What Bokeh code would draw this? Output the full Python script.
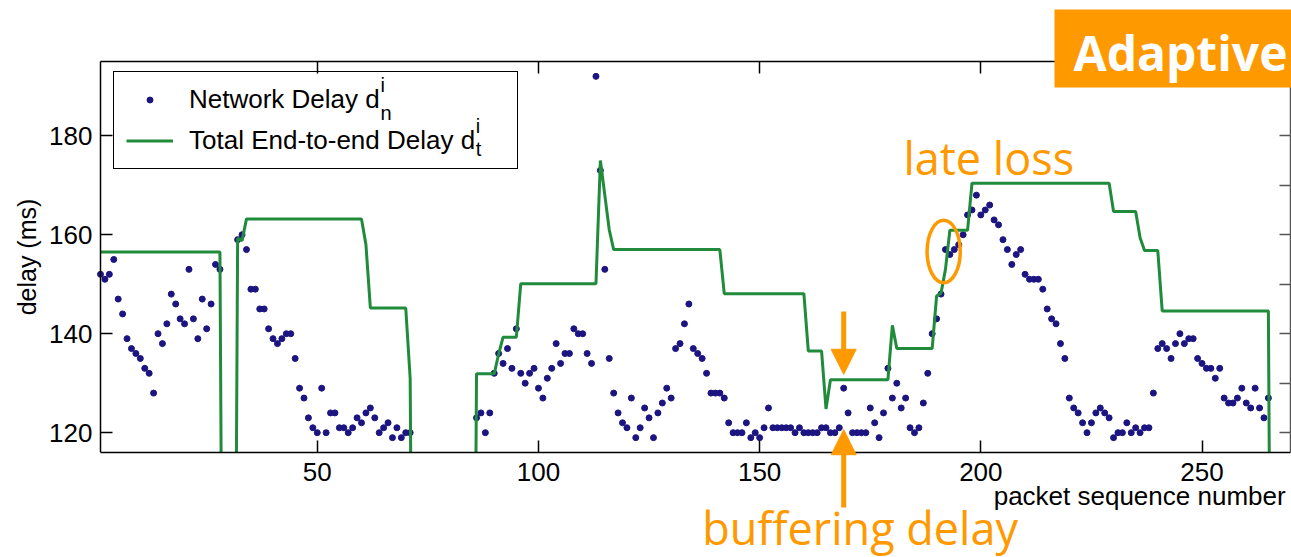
from bokeh.plotting import figure
from bokeh.models import (Range1d, LinearAxis, FixedTicker, Legend, LegendItem, Label,
                          BoxAnnotation, Arrow, NormalHead)
from bokeh.embed import file_html
from bokeh.resources import INLINE

# ---------------- data ----------------
net_seq = list(range(1, 29)) + list(range(32, 72)) + list(range(86, 266))
net_delay = [
    # packets 1-28
    152, 151, 152, 155, 147, 144, 139, 137, 136, 135, 133, 132, 128, 140, 138, 142, 148, 146, 143, 142,
    153, 143, 139, 147, 141, 146, 154, 153,
    # packets 32-71
    159, 160, 157, 149, 149, 145, 145, 141, 139, 138, 139, 140, 140, 135, 129, 127, 123, 121, 120, 129,
    120, 124, 124, 121, 121, 120, 121, 123, 122, 124, 125, 123, 120, 121, 122, 119, 121, 119, 120, 120,
    # packets 86-265
    123, 124, 120, 124, 132, 136, 134, 137, 133, 141, 132, 130, 132, 133, 129, 127, 131, 133, 138, 134,
    136, 136, 141, 140, 140, 136, 134, 192, 173, 153, 135, 128, 124, 122, 121, 127, 119, 121, 125, 123,
    119, 124, 126, 129, 127, 137, 138, 142, 146, 137, 136, 135, 132, 128, 128, 128, 127, 122, 120, 120,
    120, 122, 119, 120, 119, 121, 125, 121, 121, 121, 121, 121, 120, 121, 120, 120, 120, 120, 121, 121,
    120, 120, 121, 129, 124, 120, 120, 120, 120, 125, 122, 119, 124, 133, 127, 130, 125, 127, 121, 120,
    121, 126, 132, 140, 143, 148, 157, 156, 157, 158, 160, 164, 165, 168, 164, 165, 166, 163, 162, 159,
    157, 154, 156, 157, 152, 151, 151, 151, 149, 145, 143, 142, 138, 135, 127, 125, 124, 122, 120, 122,
    124, 125, 124, 123, 119, 120, 120, 122, 120, 121, 120, 121, 121, 128, 137, 138, 137, 135, 138, 140,
    138, 139, 139, 135, 134, 133, 133, 131, 133, 127, 126, 126, 127, 129, 126, 125, 129, 125, 123, 127,
]

# total end-to-end delay: vertices of the playout-delay curve (0 = packet lost)
tot_seq = [1, 28, 29, 31, 32, 33, 34, 60, 61, 62, 70, 71, 72, 85, 86, 90, 91, 92, 95, 96,
           113, 114, 115, 116, 117, 141, 142, 160, 161, 164, 165, 166, 179, 180, 181, 189, 190, 191, 192, 193,
           197, 198, 229, 230, 235, 236, 237, 240, 241, 265, 266]
tot_delay = [156.5, 156.5, 0, 0, 159.3, 158.8, 163.2, 163.2, 158.0, 145.2, 145.2, 131.0, 0, 0, 131.9, 131.9, 135.9, 139.3, 139.3, 150.1,
             150.1, 175.0, 168.0, 161.0, 157.0, 157.0, 148.1, 148.1, 136.5, 136.5, 124.8, 130.7, 130.7, 141.7, 137.0, 137.0, 147.6, 148.2, 153.0, 160.9,
             160.9, 170.4, 170.4, 164.7, 164.7, 159.4, 156.8, 156.8, 144.6, 144.6, 0]

x_lim = (1, 270)
y_lim = (116, 195)
x_ticks = [50, 100, 150, 200, 250]
y_ticks = [120, 140, 160, 180]
y_ticks_right = [120, 130, 140, 150, 160, 170, 180]

ORANGE = "#FF9900"
DOT = "#1c1480"
GREEN = "#1f8b3b"
FONT = "Liberation Sans"

# the frame fills the canvas; the plot box (x_lim, y_lim) sits at 100..1290 x 61..452 px
W, H = 1291, 557
kx = 1190 / (x_lim[1] - x_lim[0])
ky = 391 / (y_lim[1] - y_lim[0])
p = figure(width=W, height=H, output_backend="svg", toolbar_location=None,
           x_axis_location=None, y_axis_location=None,
           x_range=Range1d(x_lim[0] - 100 / kx, x_lim[0] + (W - 100) / kx),
           y_range=Range1d(y_lim[1] - (H - 61) / ky, y_lim[1] + 61 / ky),
           min_border=0)
p.title.visible = False
p.grid.visible = False
p.outline_line_color = None
p.background_fill_color = "white"
p.border_fill_color = "white"


def make_axis(ticks, loc, bounds, labels=True, tick_len=12, color="black"):
    ax = LinearAxis(fixed_location=loc, bounds=bounds)
    ax.ticker = FixedTicker(ticks=ticks)
    ax.major_tick_in = tick_len
    ax.major_tick_out = 0
    ax.minor_tick_line_color = None
    ax.axis_line_color = color
    ax.axis_line_width = 1.5
    ax.major_tick_line_color = color
    ax.major_tick_line_width = 1.5
    ax.major_label_text_font = FONT
    ax.major_label_text_font_size = "26px"
    ax.major_label_text_color = "black" if labels else None
    return ax


r_dots = p.scatter(net_seq, net_delay, size=6, color=DOT)
r_line = p.line(tot_seq, tot_delay, line_width=3, color=GREEN)

# white mask below the plot box (clips the drops of the delay curve)
p.add_layout(BoxAnnotation(top=y_lim[0], fill_color="white", fill_alpha=1.0, line_color=None))

x_bottom = make_axis(x_ticks, y_lim[0], x_lim)
x_bottom.major_label_standoff = 10
x_bottom.level = "overlay"
p.add_layout(x_bottom, "below")

y_left = make_axis(y_ticks, x_lim[0], y_lim)
y_left.major_label_standoff = 8
y_left.axis_label = "delay (ms)"
y_left.axis_label_text_font = FONT
y_left.axis_label_text_font_size = "25px"
y_left.axis_label_text_font_style = "normal"
y_left.axis_label_text_color = "black"
y_left.axis_label_standoff = 5
p.add_layout(y_left, "left")

p.add_layout(make_axis(x_ticks, y_lim[1], x_lim, labels=False), "above")
p.add_layout(make_axis(y_ticks_right, x_lim[1], y_lim, labels=False, tick_len=11, color="#555555"), "right")

legend = Legend(items=[LegendItem(label="Network Delay d", renderers=[r_dots]),
                       LegendItem(label="Total End-to-end Delay d", renderers=[r_line])],
                location=(113, 388), padding=12, spacing=10,
                glyph_width=47, glyph_height=15, label_height=28, label_standoff=16,
                label_width=316, label_text_font=FONT, label_text_font_size="26px",
                label_text_color="black",
                border_line_color="black", border_line_width=1.5, border_line_alpha=1.0,
                background_fill_color="white", background_fill_alpha=0.0)
p.add_layout(legend)

# super/subscripts of the legend labels
for txt, xx, yy in [("i", 64.3, 190.3), ("n", 64.3, 184.6), ("i", 85.8, 181.9), ("t", 85.8, 177.4)]:
    p.add_layout(Label(x=xx, y=yy, text=txt, text_font=FONT, text_font_size="20px",
                       text_color="black", text_baseline="alphabetic", level="overlay"))

# late loss ellipse
p.ellipse(x=[191.6], y=[156.6], width=[7.5], height=[12.6], fill_color=None,
          line_color=ORANGE, line_width=3.5)

# buffering-delay arrows
p.add_layout(Arrow(end=NormalHead(size=25, fill_color=ORANGE, line_color=ORANGE),
                   x_start=169, y_start=144.5, x_end=169, y_end=131.8,
                   line_color=ORANGE, line_width=5, level="overlay"))
p.add_layout(Arrow(end=NormalHead(size=25, fill_color=ORANGE, line_color=ORANGE),
                   x_start=169, y_start=104.9, x_end=169, y_end=120.6,
                   line_color=ORANGE, line_width=5, level="overlay"))

p.add_layout(Label(x=182.5, y=175.7, text="late loss", text_font="Open Sans",
                   text_font_size="45px", text_color=ORANGE, text_baseline="alphabetic",
                   level="overlay"))
p.add_layout(Label(x=137.0, y=100.9, text="buffering delay", text_font="Open Sans",
                   text_font_size="45px", text_color=ORANGE, text_baseline="alphabetic",
                   level="overlay"))
p.add_layout(Label(x=268.9, y=107.3, text="packet sequence number", text_font=FONT,
                   text_font_size="26px", text_color="black", text_align="right",
                   text_baseline="alphabetic", level="overlay"))

# "Adaptive" tag
p.add_layout(BoxAnnotation(left=216.65, top=205.5, bottom=189.75,
                           fill_color=ORANGE, fill_alpha=1.0, line_color=None))
p.add_layout(Label(x=220.95, y=196.9, text="Adaptive", text_font="Open Sans",
                   text_font_style="bold", text_font_size="48px", text_color="white",
                   text_baseline="alphabetic", level="overlay"))

open("out.html", "w").write(file_html(p, INLINE))
